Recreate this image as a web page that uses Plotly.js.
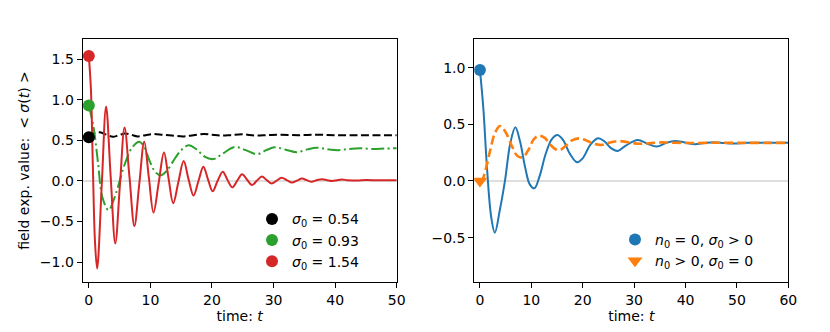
<!DOCTYPE html>
<html>
<head>
<meta charset="utf-8">
<script src="https://cdn.plot.ly/plotly-3.0.1.min.js"></script>
<style>html,body{margin:0;padding:0;background:#fff;}#chart{width:830px;height:332px;}</style>
</head>
<body>
<div id="chart"></div>
<script>
// ---- Left panel: field expectation value for three initial sigma_0 ----
const tBlack = [0,0.8,1.8,2.9,3.9,4.9,5.9,6.9,7.9,9.2,10.5,12,13.5,15.4,17,18.7,20,21.4,23,25,27,29,31,34,37,40,43,46,50];
const yBlack = [0.54,0.59,0.60,0.57,0.545,0.565,0.585,0.57,0.55,0.565,0.58,0.57,0.56,0.55,0.565,0.58,0.57,0.56,0.565,0.575,0.56,0.565,0.57,0.565,0.57,0.565,0.565,0.565,0.565];

const tGreen = [0,0.75,1.5,2.2,3.2,4.2,5.0,5.8,7.0,8.2,9.0,9.8,10.8,11.7,12.7,14.0,15.0,16.2,17.5,18.8,20.2,21.8,23.7,25.5,27.3,28.8,30.2,32.0,33.8,35.5,37.0,38.8,40.5,42.3,44,46,48,50];
const yGreen = [0.93,0.67,0.22,-0.2,-0.36,-0.2,0.0,0.2,0.41,0.485,0.42,0.26,0.11,0.07,0.13,0.28,0.38,0.44,0.39,0.3,0.27,0.34,0.42,0.38,0.33,0.38,0.415,0.385,0.354,0.39,0.41,0.39,0.38,0.395,0.405,0.395,0.4,0.405];

const tRed = [0,0.33,0.65,1.0,1.35,2.1,2.8,3.55,4.3,5.05,5.8,6.6,7.4,8.2,9.0,9.75,10.5,11.35,12.2,12.95,13.7,14.55,15.4,16.2,17.0,17.8,18.6,19.35,20.1,20.9,21.75,22.5,23.3,24.1,24.9,25.7,26.5,27.3,28.1,28.9,29.7,30.5,31.3,32.15,33.0,33.8,34.6,35.4,36.2,37.0,37.9,38.7,39.5,40.3,41.1,42.0,43.5,45,47,50];
const yRed = [1.54,1.15,0.2,-0.75,-1.08,-0.05,0.92,0.05,-0.77,-0.05,0.66,0.05,-0.555,-0.03,0.485,0.04,-0.39,-0.02,0.35,0.03,-0.275,-0.01,0.245,0.02,-0.18,0.0,0.177,0.02,-0.127,0.0,0.115,0.015,-0.078,0.005,0.082,0.015,-0.05,0.005,0.054,0.01,-0.03,0.005,0.04,0.01,-0.02,0.005,0.03,0.01,-0.01,0.01,0.022,0.01,0.0,0.01,0.017,0.01,0.005,0.012,0.008,0.008];

const leftLabels = ["<i>σ</i><sub>0</sub> = 0.54", "<i>σ</i><sub>0</sub> = 0.93", "<i>σ</i><sub>0</sub> = 1.54"];
const leftStart = [0.54, 0.93, 1.54];

// ---- Right panel ----
const tBlue = [0,0.65,1.4,2.2,2.9,3.9,4.9,5.9,6.9,7.8,8.8,9.7,10.6,11.6,12.8,14.0,15.1,16.2,17.5,18.9,20.0,21.5,23.0,24.2,25.5,26.8,28.3,30.7,32.5,34.4,36.2,37.9,39.8,41.8,43.7,45.5,47.5,49.3,52,55,60];
const yBlue = [0.98,0.65,0.1,-0.32,-0.456,-0.25,0.01,0.33,0.474,0.35,0.12,-0.03,-0.065,0.04,0.24,0.37,0.406,0.36,0.24,0.165,0.2,0.32,0.376,0.35,0.29,0.265,0.31,0.362,0.33,0.303,0.335,0.353,0.34,0.324,0.335,0.342,0.335,0.33,0.337,0.337,0.337];

const tOrange = [0,0.5,1.0,2.0,2.9,3.9,5.0,6.2,7.3,8.4,9.5,10.5,11.5,12.6,13.7,14.7,15.6,16.7,18.0,19.3,20.6,22.0,23.7,25.3,27.1,29,31,33,35,38,42,46,50,55,60];
const yOrange = [0.0,0.015,0.08,0.27,0.42,0.485,0.43,0.31,0.22,0.21,0.28,0.37,0.40,0.38,0.32,0.28,0.273,0.31,0.36,0.376,0.36,0.33,0.318,0.34,0.352,0.34,0.328,0.333,0.34,0.337,0.335,0.337,0.336,0.336,0.336];

const rightLabels = ["<i>n</i><sub>0</sub> = 0, <i>σ</i><sub>0</sub> &gt; 0", "<i>n</i><sub>0</sub> &gt; 0, <i>σ</i><sub>0</sub> = 0"];
const rightStart = [0.98, 0.0];

const leftTicks = [-1.0,-0.5,0.0,0.5,1.0,1.5];
const rightTicks = [-0.5,0.0,0.5,1.0];
const leftXTicks = [0,10,20,30,40,50];
const rightXTicks = [0,10,20,30,40,50,60];

const C = {black:'#000000', green:'#2ca02c', red:'#d62728', blue:'#1f77b4', orange:'#ff7f0e'};

const traces = [
  {x:tBlack, y:yBlack, mode:'lines', line:{color:C.black, width:2, dash:'8px,3.5px', shape:'spline', smoothing:1}, showlegend:false, xaxis:'x', yaxis:'y'},
  {x:tGreen, y:yGreen, mode:'lines', line:{color:C.green, width:2, dash:'13px,3.5px,2px,3.5px', shape:'spline', smoothing:1}, showlegend:false, xaxis:'x', yaxis:'y'},
  {x:tRed, y:yRed, mode:'lines', line:{color:C.red, width:2, shape:'spline', smoothing:1}, showlegend:false, xaxis:'x', yaxis:'y'},
  {x:[0], y:[leftStart[0]], mode:'markers', marker:{color:C.black, size:12}, name:leftLabels[0], legend:'legend', xaxis:'x', yaxis:'y'},
  {x:[0], y:[leftStart[1]], mode:'markers', marker:{color:C.green, size:12}, name:leftLabels[1], legend:'legend', xaxis:'x', yaxis:'y'},
  {x:[0], y:[leftStart[2]], mode:'markers', marker:{color:C.red, size:12}, name:leftLabels[2], legend:'legend', xaxis:'x', yaxis:'y'},

  {x:tBlue, y:yBlue, mode:'lines', line:{color:C.blue, width:2, shape:'spline', smoothing:1}, showlegend:false, xaxis:'x2', yaxis:'y2'},
  {x:tOrange, y:yOrange, mode:'lines', line:{color:C.orange, width:2.6, dash:'9px,4px', shape:'spline', smoothing:1}, showlegend:false, xaxis:'x2', yaxis:'y2'},
  {x:[0], y:[rightStart[0]], mode:'markers', marker:{color:C.blue, size:12}, name:rightLabels[0], legend:'legend2', xaxis:'x2', yaxis:'y2'},
  {x:[0], y:[rightStart[1]], mode:'markers', marker:{color:C.orange, size:13, symbol:'triangle-down'}, name:rightLabels[1], legend:'legend2', xaxis:'x2', yaxis:'y2'}
];

const axBase = {
  showline:true, mirror:true, linecolor:'#000', linewidth:1,
  ticks:'outside', ticklen:5, tickwidth:1, tickcolor:'#000',
  showgrid:false, zeroline:false, automargin:false,
  tickfont:{size:14, color:'#000'}
};

const layout = {
  width:830, height:332,
  margin:{l:0, r:0, t:0, b:0},
  paper_bgcolor:'#fff', plot_bgcolor:'#fff',
  font:{family:'DejaVu Sans', size:14, color:'#000'},
  xaxis: Object.assign({}, axBase, {domain:[0.0996,0.478], range:[-1,50], tickvals:leftXTicks, anchor:'y',
    title:{text:'time: <i>t</i>', font:{size:14}, standoff:4}}),
  yaxis: Object.assign({}, axBase, {domain:[0.1515,0.8816], range:[-1.242,1.747], tickvals:leftTicks, tickformat:'.1f', anchor:'x',
    title:{text:'field exp. value:  &lt; <i>σ</i>(<i>t</i>) &gt;', font:{size:14}, standoff:6}}),
  xaxis2: Object.assign({}, axBase, {domain:[0.5714,0.9498], range:[-1.1,60], tickvals:rightXTicks, anchor:'y2',
    title:{text:'time: <i>t</i>', font:{size:14}, standoff:4}}),
  yaxis2: Object.assign({}, axBase, {domain:[0.1515,0.8816], range:[-0.889,1.25], tickvals:rightTicks, tickformat:'.1f', anchor:'x2'}),
  shapes:[
    {type:'line', xref:'x domain', yref:'y', x0:0, x1:1, y0:0, y1:0, line:{color:'#d3d3d3', width:1.5}, layer:'below'},
    {type:'line', xref:'x2 domain', yref:'y2', x0:0, x1:1, y0:0, y1:0, line:{color:'#d3d3d3', width:1.5}, layer:'below'}
  ],
  legend:{x:252/830, xanchor:'left', y:(332-240.3)/332, yanchor:'middle', bgcolor:'rgba(0,0,0,0)', borderwidth:0, font:{size:14}},
  legend2:{x:615/830, xanchor:'left', y:(332-250.5)/332, yanchor:'middle', bgcolor:'rgba(0,0,0,0)', borderwidth:0, font:{size:14}}
};

Plotly.newPlot('chart', traces, layout, {displayModeBar:false, staticPlot:true});
</script>
</body>
</html>
